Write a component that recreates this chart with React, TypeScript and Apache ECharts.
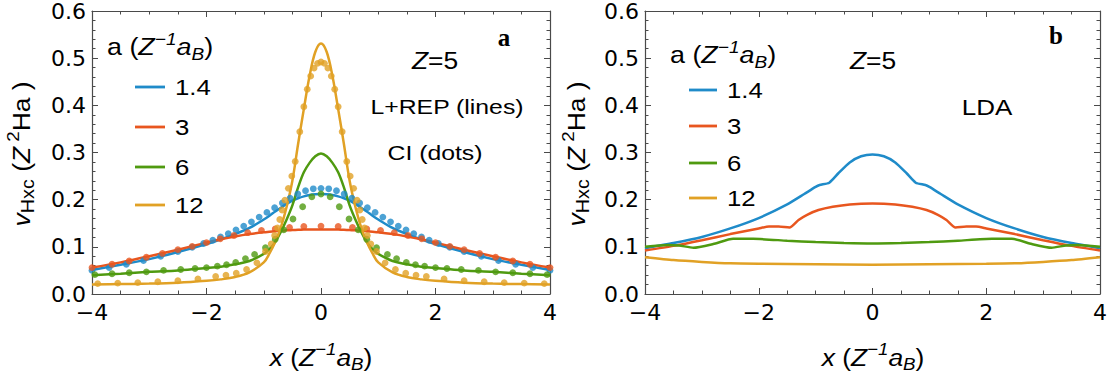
import React, { useEffect, useRef } from "react";
import * as echarts from "echarts";

// ---------- data ----------
const seriesNames = ["1.4", "3", "6", "12"];
const colors = ["#1f8bc9", "#e8561f", "#4f9a10", "#e1a125"];

const xTickValues = [-4, -2, 0, 2, 4];
const yTickValues = [0, 0.1, 0.2, 0.3, 0.4, 0.5, 0.6];

// Panel a: L+REP lines
const xA = [-4, -3.5, -3, -2.5, -2, -1.75, -1.5, -1.25, -1, -0.9, -0.8, -0.7, -0.6, -0.5, -0.4, -0.3, -0.2, -0.1, 0, 0.1, 0.2, 0.3, 0.4, 0.5, 0.6, 0.7, 0.8, 0.9, 1, 1.25, 1.5, 1.75, 2, 2.5, 3, 3.5, 4];
const blueA = [0.051, 0.062, 0.074, 0.089, 0.106, 0.116, 0.127, 0.14, 0.158, 0.166, 0.175, 0.183, 0.191, 0.198, 0.203, 0.207, 0.21, 0.2115, 0.212, 0.2115, 0.21, 0.207, 0.203, 0.198, 0.191, 0.183, 0.175, 0.166, 0.158, 0.14, 0.127, 0.116, 0.106, 0.089, 0.074, 0.062, 0.051];
const redA = [0.056, 0.067, 0.08, 0.094, 0.109, 0.116, 0.122, 0.127, 0.131, 0.132, 0.133, 0.134, 0.135, 0.1355, 0.136, 0.1365, 0.137, 0.137, 0.137, 0.137, 0.137, 0.1365, 0.136, 0.1355, 0.135, 0.134, 0.133, 0.132, 0.131, 0.127, 0.122, 0.116, 0.109, 0.094, 0.08, 0.067, 0.056];
const greenA = [0.04, 0.043, 0.047, 0.05, 0.055, 0.058, 0.063, 0.07, 0.085, 0.095, 0.11, 0.132, 0.158, 0.188, 0.226, 0.258, 0.278, 0.292, 0.298, 0.292, 0.278, 0.258, 0.226, 0.188, 0.158, 0.132, 0.11, 0.095, 0.085, 0.07, 0.063, 0.058, 0.055, 0.05, 0.047, 0.043, 0.04];
const orangeA = [0.02, 0.021, 0.022, 0.024, 0.028, 0.031, 0.036, 0.046, 0.067, 0.086, 0.11, 0.142, 0.185, 0.24, 0.318, 0.392, 0.462, 0.513, 0.531, 0.513, 0.462, 0.392, 0.318, 0.24, 0.185, 0.142, 0.11, 0.086, 0.067, 0.046, 0.036, 0.031, 0.028, 0.024, 0.022, 0.021, 0.02];

// Panel a: CI dots
const blueDotX = [-4, -3.7, -3.4, -3.1, -2.8, -2.5, -2.25, -2.05, -1.89, -1.755, -1.62, -1.485, -1.35, -1.215, -1.08, -0.945, -0.81, -0.675, -0.54, -0.405, -0.27, -0.135, 0, 0.135, 0.27, 0.405, 0.54, 0.675, 0.81, 0.945, 1.08, 1.215, 1.35, 1.485, 1.62, 1.755, 1.89, 2.05, 2.25, 2.5, 2.8, 3.1, 3.4, 3.7, 4];
const blueDotY = [0.05, 0.056, 0.063, 0.071, 0.08, 0.09, 0.099, 0.107, 0.114, 0.121, 0.128, 0.136, 0.144, 0.153, 0.163, 0.173, 0.183, 0.193, 0.203, 0.212, 0.219, 0.223, 0.224, 0.223, 0.219, 0.212, 0.203, 0.193, 0.183, 0.173, 0.163, 0.153, 0.144, 0.136, 0.128, 0.121, 0.114, 0.107, 0.099, 0.09, 0.08, 0.071, 0.063, 0.056, 0.05];
const redDotX = [-4, -3.65, -3.35, -3.05, -2.77, -2.5, -2.25, -2, -1.76, -1.52, -1.28, -1.04, -0.8, -0.55, -0.3, 0, 0.3, 0.55, 0.8, 1.04, 1.28, 1.52, 1.76, 2, 2.25, 2.5, 2.77, 3.05, 3.35, 3.65, 4];
const redDotY = [0.056, 0.063, 0.07, 0.078, 0.086, 0.094, 0.101, 0.109, 0.117, 0.124, 0.13, 0.135, 0.138, 0.141, 0.143, 0.144, 0.143, 0.141, 0.138, 0.135, 0.13, 0.124, 0.117, 0.109, 0.101, 0.094, 0.086, 0.078, 0.07, 0.063, 0.056];
const greenDotX = [-3.95, -3.65, -3.35, -3.05, -2.75, -2.45, -2.2, -2.0, -1.81, -1.65, -1.49, -1.32, -1.16, -0.97, -0.8, -0.65, -0.49, -0.32, -0.16, 0, 0.16, 0.32, 0.49, 0.65, 0.8, 0.97, 1.16, 1.32, 1.49, 1.65, 1.81, 2.0, 2.2, 2.45, 2.75, 3.05, 3.35, 3.65, 3.95];
const greenDotY = [0.041, 0.043, 0.045, 0.047, 0.05, 0.052, 0.054, 0.056, 0.059, 0.062, 0.067, 0.075, 0.084, 0.098, 0.116, 0.136, 0.159, 0.185, 0.206, 0.212, 0.206, 0.185, 0.159, 0.136, 0.116, 0.098, 0.084, 0.075, 0.067, 0.062, 0.059, 0.056, 0.054, 0.052, 0.05, 0.047, 0.045, 0.043, 0.041];
const orangeDotX = [-3.9, -3.55, -3.2, -2.85, -2.5, -2.15, -1.84, -1.66, -1.48, -1.3, -1.12, -0.97, -0.87, -0.81, -0.76, -0.72, -0.68, -0.63, -0.57, -0.51, -0.45, -0.37, -0.3, -0.24, -0.18, -0.12, -0.06, 0, 0.06, 0.12, 0.18, 0.24, 0.3, 0.37, 0.45, 0.51, 0.57, 0.63, 0.68, 0.72, 0.76, 0.81, 0.87, 0.97, 1.12, 1.3, 1.48, 1.66, 1.84, 2.15, 2.5, 2.85, 3.2, 3.55, 3.9];
const orangeDotY = [0.022, 0.023, 0.024, 0.026, 0.028, 0.032, 0.037, 0.04, 0.044, 0.052, 0.066, 0.09, 0.106, 0.124, 0.14, 0.158, 0.178, 0.199, 0.224, 0.25, 0.281, 0.344, 0.397, 0.434, 0.462, 0.479, 0.489, 0.492, 0.489, 0.479, 0.462, 0.434, 0.397, 0.344, 0.281, 0.25, 0.224, 0.199, 0.178, 0.158, 0.14, 0.124, 0.106, 0.09, 0.066, 0.052, 0.044, 0.04, 0.037, 0.032, 0.028, 0.026, 0.024, 0.023, 0.022];

// Panel b: LDA lines
const blueBX = [-4, -3.5, -3, -2.5, -2, -1.5, -1.2, -1, -0.93, -0.76, -0.6, -0.4, -0.2, 0, 0.2, 0.4, 0.6, 0.76, 0.93, 1, 1.2, 1.5, 2, 2.5, 3, 3.5, 4];
const blueBY = [0.097, 0.108, 0.121, 0.139, 0.161, 0.19, 0.212, 0.227, 0.231, 0.236, 0.256, 0.279, 0.292, 0.296, 0.292, 0.279, 0.256, 0.236, 0.231, 0.227, 0.212, 0.19, 0.161, 0.139, 0.121, 0.108, 0.097];
const redBX = [-4, -3.5, -3, -2.5, -2, -1.82, -1.65, -1.46, -1.3, -1.15, -0.95, -0.7, -0.4, 0, 0.4, 0.7, 0.95, 1.15, 1.3, 1.46, 1.65, 1.82, 2, 2.5, 3, 3.5, 4];
const redBY = [0.092, 0.102, 0.114, 0.127, 0.139, 0.143, 0.143, 0.141, 0.157, 0.168, 0.178, 0.185, 0.19, 0.192, 0.19, 0.185, 0.178, 0.168, 0.157, 0.141, 0.143, 0.143, 0.139, 0.127, 0.114, 0.102, 0.092];
const greenBX = [-4, -3.6, -3.4, -3.15, -2.8, -2.45, -2.1, -1.5, -1, -0.5, 0, 0.5, 1, 1.5, 2.1, 2.45, 2.8, 3.15, 3.4, 3.6, 4];
const greenBY = [0.1, 0.104, 0.103, 0.098, 0.106, 0.117, 0.117, 0.113, 0.11, 0.108, 0.107, 0.108, 0.11, 0.113, 0.117, 0.117, 0.106, 0.098, 0.103, 0.104, 0.1];
const orangeBX = [-4, -3.5, -3, -2.5, -2, -1, 0, 1, 2, 2.5, 3, 3.5, 4];
const orangeBY = [0.078, 0.072, 0.068, 0.065, 0.064, 0.063, 0.062, 0.063, 0.064, 0.065, 0.068, 0.072, 0.078];

// ---------- helpers ----------
const FONT = "Liberation Sans";
const TICK_FONT = "DejaVu Sans";
const SX = 1.18; // horizontal stretch of the reference lettering
const FRAME = "#4a4a4a";
const pairs = (xs: number[], ys: number[]) => xs.map((x, i) => [x, ys[i]]);
const fmtX = (v: number) => (v < 0 ? "\u2212" + Math.abs(v) : String(v));
const fmtY = (v: number) => v.toFixed(1);

const grids = [
  { left: 92, top: 11, width: 458, height: 283 },
  { left: 645, top: 11, width: 457, height: 283 },
];

function xAxisDef(gridIndex: number, position: string, labels: boolean) {
  return {
    type: "value", gridIndex, position, min: xTickValues[0], max: xTickValues[xTickValues.length - 1], interval: 2,
    axisLine: { show: true, onZero: false, lineStyle: { color: FRAME, width: 1.2 } },
    axisTick: { show: true, inside: true, length: 6, lineStyle: { color: FRAME, width: 1 } },
    minorTick: { show: true, splitNumber: 4, length: 3.5, lineStyle: { color: FRAME, width: 1 } },
    splitLine: { show: false }, minorSplitLine: { show: false },
    axisLabel: { show: labels, formatter: fmtX, fontSize: 22, fontFamily: TICK_FONT, color: "#000", margin: 7, showMinLabel: true, showMaxLabel: true },
  };
}
function yAxisDef(gridIndex: number, position: string, labels: boolean) {
  return {
    type: "value", gridIndex, position, min: yTickValues[0], max: yTickValues[yTickValues.length - 1], interval: 0.1,
    axisLine: { show: true, onZero: false, lineStyle: { color: FRAME, width: 1.2 } },
    axisTick: { show: true, inside: true, length: 6, lineStyle: { color: FRAME, width: 1 } },
    minorTick: { show: true, splitNumber: 5, length: 3.5, lineStyle: { color: FRAME, width: 1 } },
    splitLine: { show: false }, minorSplitLine: { show: false },
    axisLabel: { show: labels, formatter: fmtY, fontSize: 22, fontFamily: TICK_FONT, color: "#000", margin: 6, showMinLabel: true, showMaxLabel: true },
  };
}

function lineSeries(name: string, data: number[][], color: string, axis: number, smooth: number) {
  return {
    name, type: "line", xAxisIndex: axis, yAxisIndex: axis, data, smooth, showSymbol: false, symbol: "none",
    lineStyle: { color, width: 2.5 }, z: 2, silent: true,
  };
}
function dotSeries(name: string, data: number[][], color: string) {
  return {
    name, type: "scatter", xAxisIndex: 0, yAxisIndex: 0, data, symbol: "circle", symbolSize: 6.8,
    itemStyle: { color }, z: 3, silent: true,
  };
}

const rich = {
  n: { fontSize: 24, fontFamily: FONT, fill: "#000", lineHeight: 32 },
  i: { fontSize: 24, fontFamily: FONT, fontStyle: "italic", fill: "#000", lineHeight: 32 },
  sup: { fontSize: 17, fontFamily: FONT, fill: "#000", lineHeight: 18, verticalAlign: "top" },
  supi: { fontSize: 17, fontFamily: FONT, fontStyle: "italic", fill: "#000", lineHeight: 18, verticalAlign: "top" },
  sub: { fontSize: 18, fontFamily: FONT, fill: "#000", lineHeight: 17, verticalAlign: "bottom" },
  subi: { fontSize: 17, fontFamily: FONT, fontStyle: "italic", fill: "#000", lineHeight: 16, verticalAlign: "bottom" },
};

function richText(x: number, y: number, text: string, align: string, rotation = 0, sx = SX) {
  return {
    type: "text", x, y, rotation, scaleX: sx, silent: true,
    style: { text, rich, align, verticalAlign: "middle", textAlign: align, textVerticalAlign: "middle", fontSize: 24, fontFamily: FONT, fill: "#000" },
  };
}
function plainText(x: number, y: number, text: string, size: number, align = "center", family = FONT, weight = "normal", sx = SX) {
  return {
    type: "text", x, y, scaleX: sx, silent: true,
    style: { text, fontSize: size, fontFamily: family, fontWeight: weight, fill: "#000", align, verticalAlign: "middle", textAlign: align, textVerticalAlign: "middle" },
  };
}
function legendBlock(titleX: number, titleY: number, lx1: number, lx2: number, tx: number, ys: number[]) {
  const els: any[] = [richText(titleX, titleY, "{n|a (}{i|Z}{supi|\u22121}{i|a}{subi|B}{n|)}", "left", 0, 1.12)];
  seriesNames.forEach((nm, k) => {
    els.push({ type: "line", silent: true, shape: { x1: lx1, y1: ys[k], x2: lx2, y2: ys[k] }, style: { stroke: colors[k], lineWidth: 2.8 } });
    els.push(plainText(tx, ys[k], nm, 23, "left", FONT, "normal", 1.12));
  });
  return els;
}

const xTitle = "{i|x}{n| (}{i|Z}{supi|\u22121}{i|a}{subi|B}{n|)}";
const yTitle = "{i|v}{sub|Hxc}{n| (}{i|Z}{sup| 2}{n|Ha )}";

const graphics = [
  ...legendBlock(107, 47, 135, 165, 175, [87, 127, 167, 205]),
  richText(435, 60, "{i|Z}{n|=5}", "center", 0, 1.1),
  plainText(447, 107, "L+REP (lines)", 21),
  plainText(435, 153, "CI (dots)", 21),
  plainText(504, 37, "a", 25, "center", "Liberation Serif", "bold", 1),
  richText(21, 154, yTitle, "center", Math.PI / 2, 1.1),
  richText(321, 357, xTitle, "center", 0, 1.1),

  ...legendBlock(670, 55, 689, 717, 727, [90, 126, 163, 198]),
  richText(873, 60, "{i|Z}{n|=5}", "center", 0, 1.1),
  plainText(987, 107, "LDA", 22),
  plainText(1056, 35, "b", 25, "center", "Liberation Serif", "bold", 1),
  richText(576, 154, yTitle, "center", Math.PI / 2, 1.1),
  richText(873, 357, xTitle, "center", 0, 1.1),
];

const option = {
  animation: false,
  backgroundColor: "#fff",
  grid: grids,
  xAxis: [xAxisDef(0, "bottom", true), xAxisDef(0, "top", false), xAxisDef(1, "bottom", true), xAxisDef(1, "top", false)],
  yAxis: [yAxisDef(0, "left", true), yAxisDef(0, "right", false), yAxisDef(1, "left", true), yAxisDef(1, "right", false)],
  series: [
    lineSeries("1.4", pairs(xA, blueA), colors[0], 0, 0.35),
    lineSeries("3", pairs(xA, redA), colors[1], 0, 0.35),
    lineSeries("6", pairs(xA, greenA), colors[2], 0, 0.35),
    lineSeries("12", pairs(xA, orangeA), colors[3], 0, 0.35),
    dotSeries("1.4 CI", pairs(blueDotX, blueDotY), colors[0]),
    dotSeries("3 CI", pairs(redDotX, redDotY), colors[1]),
    dotSeries("6 CI", pairs(greenDotX, greenDotY), colors[2]),
    dotSeries("12 CI", pairs(orangeDotX, orangeDotY), colors[3]),
    lineSeries("1.4 LDA", pairs(blueBX, blueBY), colors[0], 2, 0.2),
    lineSeries("3 LDA", pairs(redBX, redBY), colors[1], 2, 0.2),
    lineSeries("6 LDA", pairs(greenBX, greenBY), colors[2], 2, 0.2),
    lineSeries("12 LDA", pairs(orangeBX, orangeBY), colors[3], 2, 0.2),
  ],
  graphic: { elements: graphics },
};

export default function App() {
  const ref = useRef<HTMLDivElement>(null);
  useEffect(() => {
    const chart = echarts.init(ref.current as HTMLDivElement, null, { renderer: "svg" });
    chart.setOption(option as any);
    return () => chart.dispose();
  }, []);
  return <div ref={ref} style={{ position: "fixed", left: 0, top: 0, width: 1110, height: 377, background: "#fff" }} />;
}
